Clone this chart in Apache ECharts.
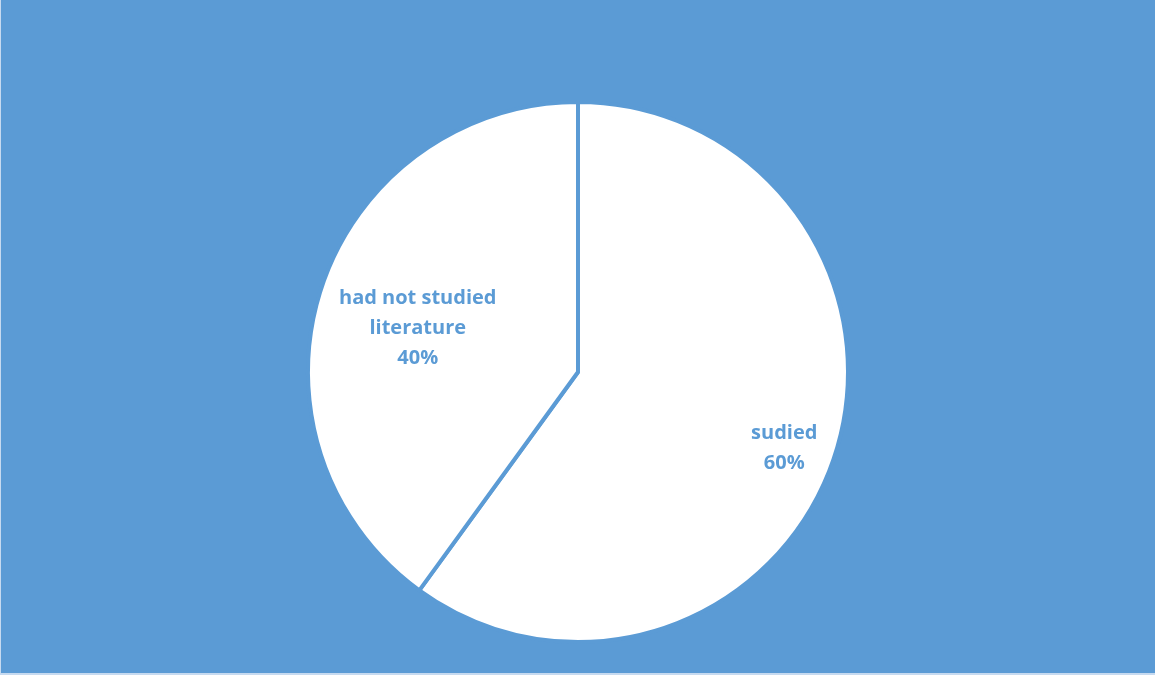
<!DOCTYPE html>
<html>
<head>
<meta charset="utf-8">
<script src="https://cdn.jsdelivr.net/npm/echarts@6/dist/echarts.min.js"></script>
<style>
  html, body { margin: 0; padding: 0; background: #5B9BD5; }
  #chart { width: 1155px; height: 675px; box-sizing: border-box;
           border-left: 1px solid #c6daf0; border-bottom: 2px solid #c6daf0; }
</style>
</head>
<body>
<div id="chart"></div>
<script>
// Share of respondents by literature study
const categories = ['sudied', 'had not studied\nliterature'];
const shares = [60, 40];

// label nudges from the default inside anchor, per slice
const labelOffsets = [[75, 34], [-29, -1]];

const blue = '#5B9BD5';
const chart = echarts.init(document.getElementById('chart'), null, { renderer: 'canvas' });

chart.setOption({
  backgroundColor: blue,
  animation: false,
  series: [{
    type: 'pie',
    center: [577, 372],
    radius: [0, 270],
    startAngle: 90,
    clockwise: true,
    silent: true,
    itemStyle: { color: '#ffffff', borderColor: blue, borderWidth: 4 },
    label: {
      show: true,
      position: 'inside',
      color: blue,
      fontFamily: 'Open Sans',
      fontWeight: 'bold',
      fontSize: 20,
      lineHeight: 30,
      align: 'center',
      formatter: p => p.name + '\n' + p.value + '%'
    },
    labelLine: { show: false },
    data: categories.map((name, i) => ({
      name: name,
      value: shares[i],
      label: { offset: labelOffsets[i] }
    }))
  }]
});
</script>
</body>
</html>
